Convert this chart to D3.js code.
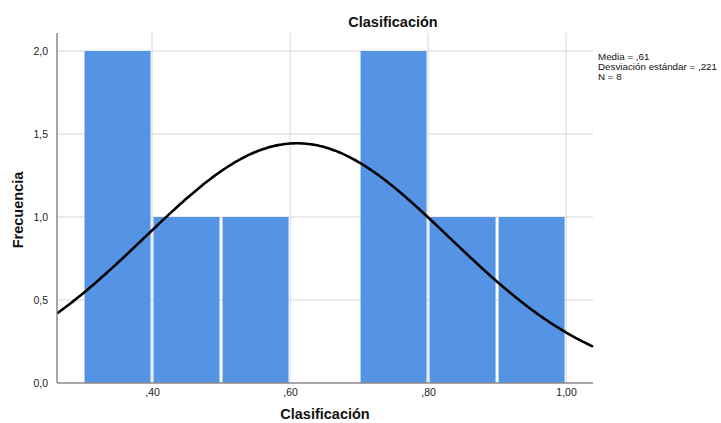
<!DOCTYPE html>
<html>
<head>
<meta charset="utf-8">
<script src="https://cdn.jsdelivr.net/npm/d3@7"></script>
<style>
  html, body { margin: 0; padding: 0; background: #fff; }
  svg { display: block; font-family: Arial, "Liberation Sans", sans-serif; }
</style>
</head>
<body>
<svg id="chart" width="721" height="423"></svg>
<script>
// Histogram bins (lower edge, upper edge) and counts
const binStarts = [0.3, 0.4, 0.5, 0.6, 0.7, 0.8, 0.9];
const binEnds   = [0.4, 0.5, 0.6, 0.7, 0.8, 0.9, 1.0];
const counts    = [2, 1, 1, 0, 2, 1, 1];

// Summary statistics shown in the legend
const mean = 0.61;
const stdDev = 0.221;
const n = 8;
const binWidth = 0.1;

const xTicks = [0.4, 0.6, 0.8, 1.0];
const xTickLabels = [",40", ",60", ",80", "1,00"];
const yTicks = [0, 0.5, 1.0, 1.5, 2.0];
const yTickLabels = ["0,0", "0,5", "1,0", "1,5", "2,0"];
const statLines = ["Media = ,61", "Desviación estándar = ,221", "N = 8"];

const svg = d3.select("#chart");
const plotLeft = 57, plotRight = 593, plotTop = 33, plotBottom = 383;

const x = d3.scaleLinear().domain([0.2623, 1.039]).range([plotLeft, plotRight]);
const y = d3.scaleLinear().domain([0, 2.0]).range([plotBottom, 51]);

// Grid lines
const grid = svg.append("g");
grid.selectAll("line.h").data(yTicks.filter(d => d > 0)).join("line")
  .attr("x1", plotLeft).attr("x2", plotRight)
  .attr("y1", d => y(d)).attr("y2", d => y(d))
  .attr("stroke", "#d6d6d6").attr("stroke-width", 1);
grid.selectAll("line.v").data(xTicks).join("line")
  .attr("x1", d => x(d)).attr("x2", d => x(d))
  .attr("y1", plotTop).attr("y2", plotBottom)
  .attr("stroke", "#d6d6d6").attr("stroke-width", 1);

// Bars
const bins = binStarts.map((s, i) => ({ x0: s, x1: binEnds[i], c: counts[i] }));
svg.append("g").selectAll("rect").data(bins.filter(d => d.c > 0)).join("rect")
  .attr("x", d => x(d.x0) + 1.5)
  .attr("width", d => x(d.x1) - x(d.x0) - 3)
  .attr("y", d => y(d.c))
  .attr("height", d => y(0) - y(d.c))
  .attr("fill", "#5594e4");

// Normal curve fitted from mean and standard deviation
const dom = x.domain();
const pts = d3.range(0, 201).map(i => dom[0] + (dom[1] - dom[0]) * i / 200);
const dens = v => n * binWidth / (stdDev * Math.sqrt(2 * Math.PI)) *
  Math.exp(-0.5 * Math.pow((v - mean) / stdDev, 2));
svg.append("path")
  .datum(pts)
  .attr("d", d3.line().x(d => x(d)).y(d => y(dens(d))).curve(d3.curveBasis))
  .attr("fill", "none").attr("stroke", "#000").attr("stroke-width", 2.6);

// Axes
const xAxis = d3.axisBottom(x).tickValues(xTicks)
  .tickFormat((d, i) => xTickLabels[i]).tickSize(0).tickPadding(6);
const gx = svg.append("g").attr("transform", `translate(0,${plotBottom})`).call(xAxis);
gx.select(".domain").remove();
gx.selectAll("text").attr("font-size", 10.5).attr("fill", "#222")
  .attr("font-family", "Arial, 'Liberation Sans', sans-serif");

const yAxis = d3.axisLeft(y).tickValues(yTicks)
  .tickFormat((d, i) => yTickLabels[i]).tickSize(0).tickPadding(9);
const gy = svg.append("g").attr("transform", `translate(${plotLeft},0)`).call(yAxis);
gy.select(".domain").remove();
gy.selectAll("text").attr("font-size", 10.5).attr("fill", "#222")
  .attr("font-family", "Arial, 'Liberation Sans', sans-serif");
svg.append("line").attr("x1", plotLeft).attr("x2", plotLeft).attr("y1", plotTop).attr("y2", plotBottom)
  .attr("stroke", "#8a8a8a").attr("stroke-width", 1.5);
svg.append("line").attr("x1", plotLeft).attr("x2", plotRight).attr("y1", plotBottom).attr("y2", plotBottom)
  .attr("stroke", "#8a8a8a").attr("stroke-width", 1.5);

// Title and axis labels
svg.append("text").attr("x", 393).attr("y", 27).attr("text-anchor", "middle")
  .attr("font-size", 14.5).attr("font-weight", "bold").attr("fill", "#111")
  .text("Clasificación");
svg.append("text").attr("x", 325).attr("y", 419).attr("text-anchor", "middle")
  .attr("font-size", 14.5).attr("font-weight", "bold").attr("fill", "#111")
  .text("Clasificación");
svg.append("text").attr("transform", "translate(23,210) rotate(-90)")
  .attr("text-anchor", "middle")
  .attr("font-size", 14.5).attr("font-weight", "bold").attr("fill", "#111")
  .text("Frecuencia");

// Statistics box
svg.append("g").selectAll("text").data(statLines).join("text")
  .attr("x", 598).attr("y", (d, i) => 60 + i * 10)
  .attr("font-size", 9.8).attr("fill", "#111")
  .text(d => d);
</script>
</body>
</html>
